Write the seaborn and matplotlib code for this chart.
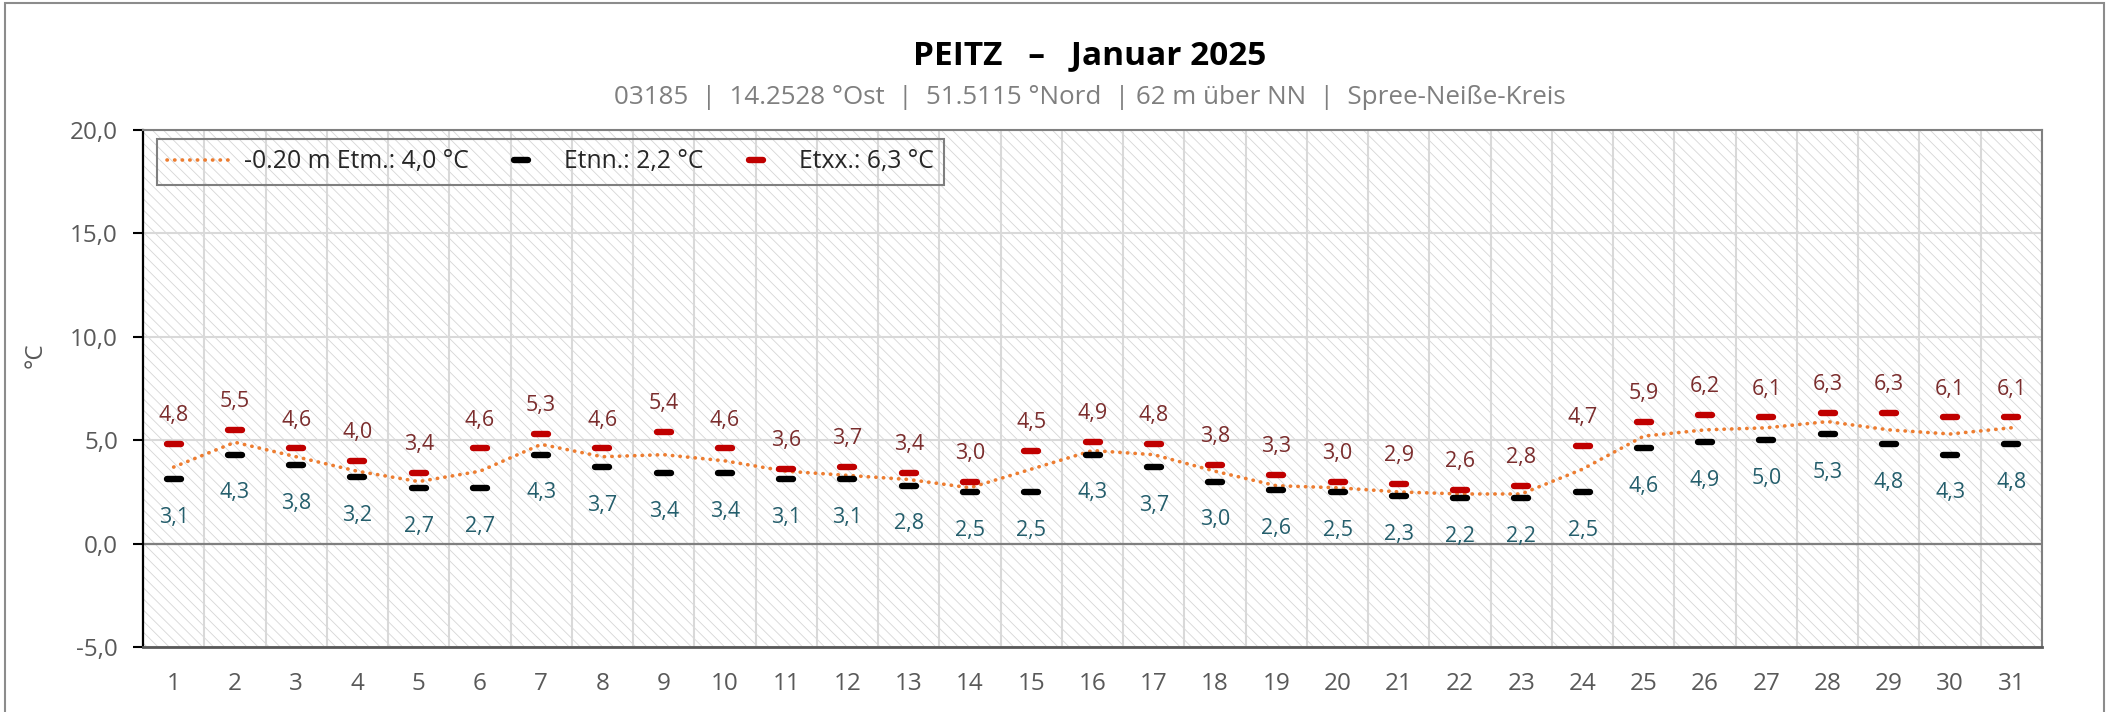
import numpy as np
import pandas as pd
import matplotlib
matplotlib.use("Agg")
import matplotlib.pyplot as plt
import seaborn as sns
from matplotlib.patches import Rectangle
from matplotlib.markers import MarkerStyle
from matplotlib.ticker import FuncFormatter

# ---------------- data ----------------
days = list(range(1, 32))
t_mean = [3.7, 4.9, 4.2, 3.5, 3.0, 3.5, 4.8, 4.2, 4.3, 4.0, 3.5, 3.3, 3.1, 2.7, 3.6, 4.5,
          4.3, 3.5, 2.8, 2.7, 2.5, 2.4, 2.4, 3.6, 5.2, 5.5, 5.6, 5.9, 5.5, 5.3, 5.6]
t_min = [3.1, 4.3, 3.8, 3.2, 2.7, 2.7, 4.3, 3.7, 3.4, 3.4, 3.1, 3.1, 2.8, 2.5, 2.5, 4.3,
         3.7, 3.0, 2.6, 2.5, 2.3, 2.2, 2.2, 2.5, 4.6, 4.9, 5.0, 5.3, 4.8, 4.3, 4.8]
t_max = [4.8, 5.5, 4.6, 4.0, 3.4, 4.6, 5.3, 4.6, 5.4, 4.6, 3.6, 3.7, 3.4, 3.0, 4.5, 4.9,
         4.8, 3.8, 3.3, 3.0, 2.9, 2.6, 2.8, 4.7, 5.9, 6.2, 6.1, 6.3, 6.3, 6.1, 6.1]
y_ticks = [-5, 0, 5, 10, 15, 20]
title = "PEITZ   \u2013   Januar 2025"
subtitle = "03185  |  14.2528 \u00b0Ost  |  51.5115 \u00b0Nord  | 62 m \u00fcber NN  |  Spree-Nei\u00dfe-Kreis"
label_mean = "-0.20 m Etm.: 4,0 \u00b0C"
label_min = "Etnn.: 2,2 \u00b0C"
label_max = "Etxx.: 6,3 \u00b0C"
y_label = "\u00b0C"

# ---------------- style ----------------
sns.set_theme(style="white")
plt.rcParams["font.family"] = ["Open Sans", "DejaVu Sans"]
plt.rcParams["hatch.linewidth"] = 0.6

df = pd.DataFrame({"day": days, "mean": t_mean, "min": t_min, "max": t_max})

fig = plt.figure(figsize=(21.13, 7.12), dpi=100)
ax = fig.add_axes([143 / 2113, 1 - 647 / 712, (2042 - 143) / 2113, (647 - 130) / 712])

# hatched plot background
ax.add_patch(Rectangle((0, 0), 1, 1, transform=ax.transAxes, facecolor="white",
                       edgecolor="#D6D6D6", hatch="\\\\\\", lw=0, zorder=0))

ax.axhline(0, color="#7F7F7F", lw=1.6, zorder=1.5)

sns.lineplot(data=df, x="day", y="mean", ax=ax, color="#ED7D31", lw=2.6,
             linestyle=(0, (0.1, 2.0)), dash_capstyle="round", errorbar=None,
             label=label_mean, zorder=3)

bar_marker_min = MarkerStyle("_", capstyle="round")
bar_marker_max = MarkerStyle("_", capstyle="round")
sns.lineplot(data=df, x="day", y="min", ax=ax, color="black", linestyle="",
             marker=bar_marker_min, markersize=9.5, markeredgewidth=4.6,
             markeredgecolor="black", errorbar=None, label=label_min, zorder=4)
sns.lineplot(data=df, x="day", y="max", ax=ax, color="#C00000", linestyle="",
             marker=bar_marker_max, markersize=9.5, markeredgewidth=4.6,
             markeredgecolor="#C00000", errorbar=None, label=label_max, zorder=4)

def fmt(v):
    return f"{v:.1f}".replace(".", ",")

for d, v in zip(days, t_max):
    ax.annotate(fmt(v), (d, v), xytext=(0, 16.5), textcoords="offset points",
                ha="center", va="baseline", fontsize=15.5, color="#7B2D2D", zorder=5)
for d, v in zip(days, t_min):
    ax.annotate(fmt(v), (d, v), xytext=(0, -31.5), textcoords="offset points",
                ha="center", va="baseline", fontsize=15.5, color="#245E6C", zorder=5)

# axes
ax.set_xlim(0.5, 31.5)
ax.set_ylim(-5, 20)
ax.set_yticks(y_ticks)
ax.yaxis.set_major_formatter(FuncFormatter(lambda v, p: fmt(v)))
ax.set_xticks(days)
ax.set_xticks(np.arange(0.5, 32, 1), minor=True)
ax.grid(axis="y", which="major", color="#D9D9D9", lw=1.5)
ax.grid(axis="x", which="minor", color="#D9D9D9", lw=1.5)
ax.grid(axis="x", which="major", visible=False)
ax.set_axisbelow(True)
ax.tick_params(axis="x", which="both", length=0, pad=18, labelsize=17.5, labelcolor="#595959")
ax.tick_params(axis="y", which="major", left=True, length=7, width=1.5, color="black",
               pad=11, labelsize=17.5, labelcolor="#595959")
ax.set_xlabel("")
ax.set_ylabel(y_label, fontsize=17.5, color="#595959")
ax.yaxis.set_label_coords(-0.050, 0.565)

for side, col, lw in [("left", "black", 1.6), ("bottom", "#595959", 2.0),
                      ("top", "#808080", 1.5), ("right", "#808080", 1.5)]:
    ax.spines[side].set_color(col)
    ax.spines[side].set_linewidth(lw)
    ax.spines[side].set_visible(True)

handles, labels = ax.get_legend_handles_labels()
leg = ax.legend(handles, labels, loc="upper left", bbox_to_anchor=(0.0074, 0.9826),
                borderaxespad=0, ncol=3, fontsize=17.8, frameon=True, fancybox=False,
                edgecolor="#7F7F7F", facecolor="none", framealpha=1,
                handlelength=2.7, handletextpad=0.4, columnspacing=0.75,
                borderpad=0.42, numpoints=1)
leg.get_frame().set_linewidth(1.5)

# titles
fig.text(1090 / 2113, 1 - 56 / 712, title, ha="center", va="center",
         fontsize=24, fontweight="bold", color="black")
fig.text(1090 / 2113, 1 - 98 / 712, subtitle, ha="center", va="center",
         fontsize=18.7, color="#7F7F7F")

# outer frame
fig.add_artist(Rectangle((5 / 2113, -0.02), (2104 - 5) / 2113, 1 - 3 / 712 + 0.02,
                         transform=fig.transFigure, fill=False, edgecolor="#8C8C8C", lw=1.5))

fig.savefig("out.png", dpi=100)
